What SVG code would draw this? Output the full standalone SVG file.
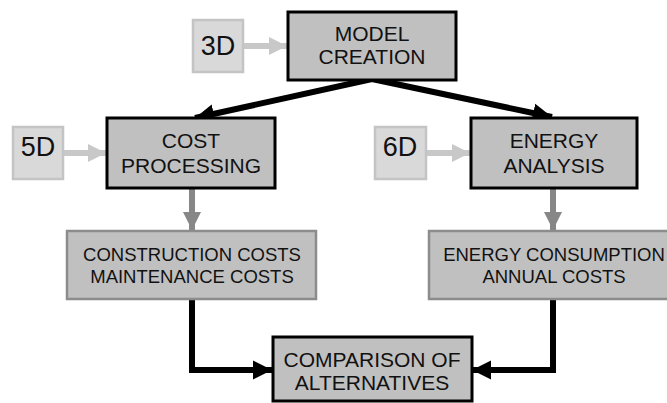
<svg xmlns="http://www.w3.org/2000/svg" width="667" height="403" viewBox="0 0 667 403">
<defs>
<style>
.main{fill:#c0c0c0;stroke:#000;stroke-width:3}
.res{fill:#c0c0c0;stroke:#8c8c8c;stroke-width:2.5}
.dim{fill:#d9d9d9;stroke:#c4c4c4;stroke-width:2.5}
.t{font-family:"Liberation Sans",Arial,sans-serif;fill:#111;text-anchor:middle}
.big{font-size:21px}
.res-t{font-size:18.5px}
.dim-t{font-size:27px}
.blk{stroke:#000;stroke-width:6;fill:none}
.lgt{stroke:#c8c8c8;stroke-width:6;fill:none}
.gry{stroke:#878787;stroke-width:6;fill:none}
</style>
<marker id="hb" viewBox="0 0 10 10" refX="10" refY="5" markerWidth="3.2" markerHeight="3.4" markerUnits="strokeWidth" orient="auto"><path d="M0,0 L10,5 L0,10 Z" fill="#000"/></marker>
<marker id="hl" viewBox="0 0 10 10" refX="10" refY="5" markerWidth="3" markerHeight="3.4" markerUnits="strokeWidth" orient="auto"><path d="M0,0 L10,5 L0,10 Z" fill="#c8c8c8"/></marker>
<marker id="hg" viewBox="0 0 10 10" refX="10" refY="5" markerWidth="3" markerHeight="3.5" markerUnits="strokeWidth" orient="auto"><path d="M0,0 L10,5 L0,10 Z" fill="#878787"/></marker>
</defs>
<g id="connectors">
<line class="lgt" x1="243" y1="46" x2="287" y2="46" marker-end="url(#hl)"/>
<line class="lgt" x1="63" y1="153" x2="106" y2="153" marker-end="url(#hl)"/>
<line class="lgt" x1="426" y1="153" x2="470" y2="153" marker-end="url(#hl)"/>
<line class="blk" x1="372" y1="79" x2="195" y2="118" marker-end="url(#hb)"/>
<line class="blk" x1="372" y1="79" x2="552" y2="117" marker-end="url(#hb)"/>
<line class="gry" x1="192" y1="189" x2="192" y2="230" marker-end="url(#hg)"/>
<line class="gry" x1="553" y1="189" x2="553" y2="230" marker-end="url(#hg)"/>
<polyline class="blk" points="192,299 192,370 272,370" marker-end="url(#hb)"/>
<polyline class="blk" points="553,299 553,370 472,370" marker-end="url(#hb)"/>
</g>
<g id="n3d"><rect class="dim" x="193" y="20" width="50" height="52"/><text class="t dim-t" x="218" y="55">3D</text></g>
<g id="model"><rect class="main" x="288" y="12" width="168" height="68"/><text class="t big" x="372" y="41">MODEL</text><text class="t big" x="372" y="64">CREATION</text></g>
<g id="n5d"><rect class="dim" x="13" y="127" width="50" height="52"/><text class="t dim-t" x="38" y="156">5D</text></g>
<g id="cost"><rect class="main" x="107" y="118" width="168" height="70"/><text class="t big" x="191" y="148">COST</text><text class="t big" x="191" y="173">PROCESSING</text></g>
<g id="n6d"><rect class="dim" x="375" y="127" width="51" height="52"/><text class="t dim-t" x="400" y="156">6D</text></g>
<g id="energy"><rect class="main" x="471" y="118" width="166" height="70"/><text class="t big" x="554" y="148">ENERGY</text><text class="t big" x="554" y="173">ANALYSIS</text></g>
<g id="costs"><rect class="res" x="67" y="231" width="249" height="68"/><text class="t res-t" x="192" y="261">CONSTRUCTION COSTS</text><text class="t res-t" x="192" y="283">MAINTENANCE COSTS</text></g>
<g id="consumption"><rect class="res" x="429" y="231" width="250" height="68"/><text class="t res-t" x="554" y="261">ENERGY CONSUMPTION</text><text class="t res-t" x="554" y="283">ANNUAL COSTS</text></g>
<g id="comparison"><rect class="main" x="273" y="337" width="199" height="64"/><text class="t big" x="372" y="367">COMPARISON OF</text><text class="t big" x="372" y="390">ALTERNATIVES</text></g>
</svg>
